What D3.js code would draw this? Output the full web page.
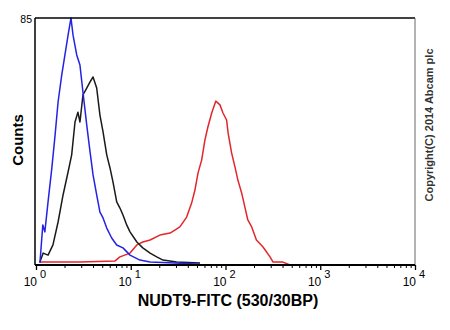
<!DOCTYPE html>
<html><head><meta charset="utf-8">
<script src="https://cdn.jsdelivr.net/npm/d3@7"></script>
<style>body{margin:0;background:#fff}svg{display:block}</style>
</head><body>
<svg id="c" width="450" height="330"></svg>
<script>
const blueX = [1.10,1.18,1.24,1.34,1.47,1.59,1.71,1.87,2.02,2.18,2.34,2.46,2.69,2.91,3.13,3.43,3.72,4.0,4.37,4.73,5.1,5.58,6.29,7.11,8.28,9.82,12.5,16.0,29.3,53.8];
const blueY = [0.7,13.8,11.4,21.7,33.4,44.7,56.1,65.4,72.3,79.1,85,79.1,72.3,68.8,59.5,48.2,38.9,31,24.1,18.2,16.2,12.7,9.3,6.9,5.9,3.4,1.7,1.0,0.7,0.3];
const blackX = [1.10,1.19,1.34,1.51,1.71,1.93,2.18,2.38,2.58,2.77,2.91,3.13,3.43,3.72,4.0,4.37,4.73,5.1,5.58,6.04,6.49,7.11,7.69,8.28,9.06,9.82,11.6,13.4,16.0,18.8,21.9,30.5,53.8];
const blackY = [1.0,4.1,3.4,6.9,14.8,24.1,32.0,37.9,49.2,52.6,49.2,58.5,60.9,63.0,64.7,60.9,51.6,45.8,37.9,33.4,28.6,21.7,19.6,17.2,13.8,11.4,7.9,5.9,4.1,2.8,1.7,1.0,0.7];
const redX = [1.10,2.91,6.83,7.69,9.82,11.6,13.4,16.0,20.3,26.0,33.0,38.9,43.9,47.6,51.3,56.0,60.6,65.2,71.5,79.1,87.4,94.1,102.7,106.6,116.1,126,135,148,160,172,189,212,249,295,318,404,480];
const redY = [1.0,1.0,1.4,2.8,4.1,6.9,7.9,8.6,10.3,11.0,13.1,16.5,21.3,25.8,31.7,36.1,43.0,47.5,52.3,56.4,55.1,52.3,49.9,45.4,38.5,33.7,29.3,24.8,20.0,15.5,13.1,8.6,6.2,2.8,1.0,1.0,0];
const xTickValues = [1,10,100,1000,10000];
const xTickExp = ["0","1","2","3","4"];
const yMax = 85;
const xTitle = "NUDT9-FITC (530/30BP)";
const yTitle = "Counts";
const copyright = "Copyright(C) 2014 Abcam plc";

const svg = d3.select("#c");
const L=36, R=415, T=18, B=265;
const FONT = "Arial, 'Liberation Sans', sans-serif";
const x = d3.scaleLog().domain([1,10000]).range([L,R]);
const y = d3.scaleLinear().domain([0,yMax]).range([B,T]);

// minor ticks
const minor = [];
for (let d=1; d<10000; d*=10) for (let k=2;k<10;k++) minor.push(d*k);
svg.append("g").attr("transform",`translate(0,${B})`)
  .call(d3.axisBottom(x).tickValues(minor).tickSize(3).tickFormat(""))
  .call(g=>{g.select(".domain").remove(); g.selectAll("line").attr("stroke","#000");});
svg.append("g").attr("transform",`translate(0,${B})`)
  .call(d3.axisBottom(x).tickValues(xTickValues).tickSize(5).tickFormat(""))
  .call(g=>{g.select(".domain").remove(); g.selectAll("line").attr("stroke","#000").attr("stroke-width",1.3);});

// tick labels
const lab = svg.append("g").attr("font-family",FONT).attr("fill","#000");
xTickValues.forEach((v,i)=>{
  lab.append("text").attr("x",x(v)+1).attr("y",286).attr("text-anchor","end").attr("font-size",12).text("10");
  lab.append("text").attr("x",x(v)+4).attr("y",278).attr("font-size",11).text(xTickExp[i]);
});
lab.append("text").attr("x",L-4).attr("y",y(yMax)+5).attr("text-anchor","end").attr("font-size",10.5).text(yMax);

// curves
const line = d3.line().x(d=>x(d[0])).y(d=>y(d[1]));
const series = [
  {xs:redX, ys:redY, c:"#e3262b"},
  {xs:blackX, ys:blackY, c:"#1a1a1a"},
  {xs:blueX, ys:blueY, c:"#2323e6"}
];
series.forEach(s=>{
  svg.append("path").datum(s.xs.map((v,i)=>[v,s.ys[i]]))
    .attr("d",line).attr("fill","none").attr("stroke",s.c).attr("stroke-width",1.5).attr("stroke-linejoin","round");
});

// frame
svg.append("line").attr("x1",L-1).attr("x2",R).attr("y1",T).attr("y2",T).attr("stroke","#000").attr("stroke-width",1.5);
svg.append("line").attr("x1",L-1).attr("x2",L-1).attr("y1",T).attr("y2",B).attr("stroke","#000").attr("stroke-width",1.5);
svg.append("line").attr("x1",R).attr("x2",R).attr("y1",T).attr("y2",B).attr("stroke","#666").attr("stroke-width",1);
svg.append("line").attr("x1",L-1).attr("x2",R).attr("y1",B).attr("y2",B).attr("stroke","#000").attr("stroke-width",2);

// titles
svg.append("text").attr("x",228).attr("y",306).attr("text-anchor","middle")
  .attr("font-family",FONT).attr("font-weight","bold").attr("font-size",16).text(xTitle);
svg.append("text").attr("transform","translate(23,140) rotate(-90)").attr("text-anchor","middle")
  .attr("font-family",FONT).attr("font-weight","bold").attr("font-size",15).text(yTitle);
svg.append("text").attr("transform","translate(433,125) rotate(-90)").attr("text-anchor","middle")
  .attr("font-family",FONT).attr("font-weight","bold").attr("font-size",11).attr("fill","#333").text(copyright);
</script>
</body></html>
